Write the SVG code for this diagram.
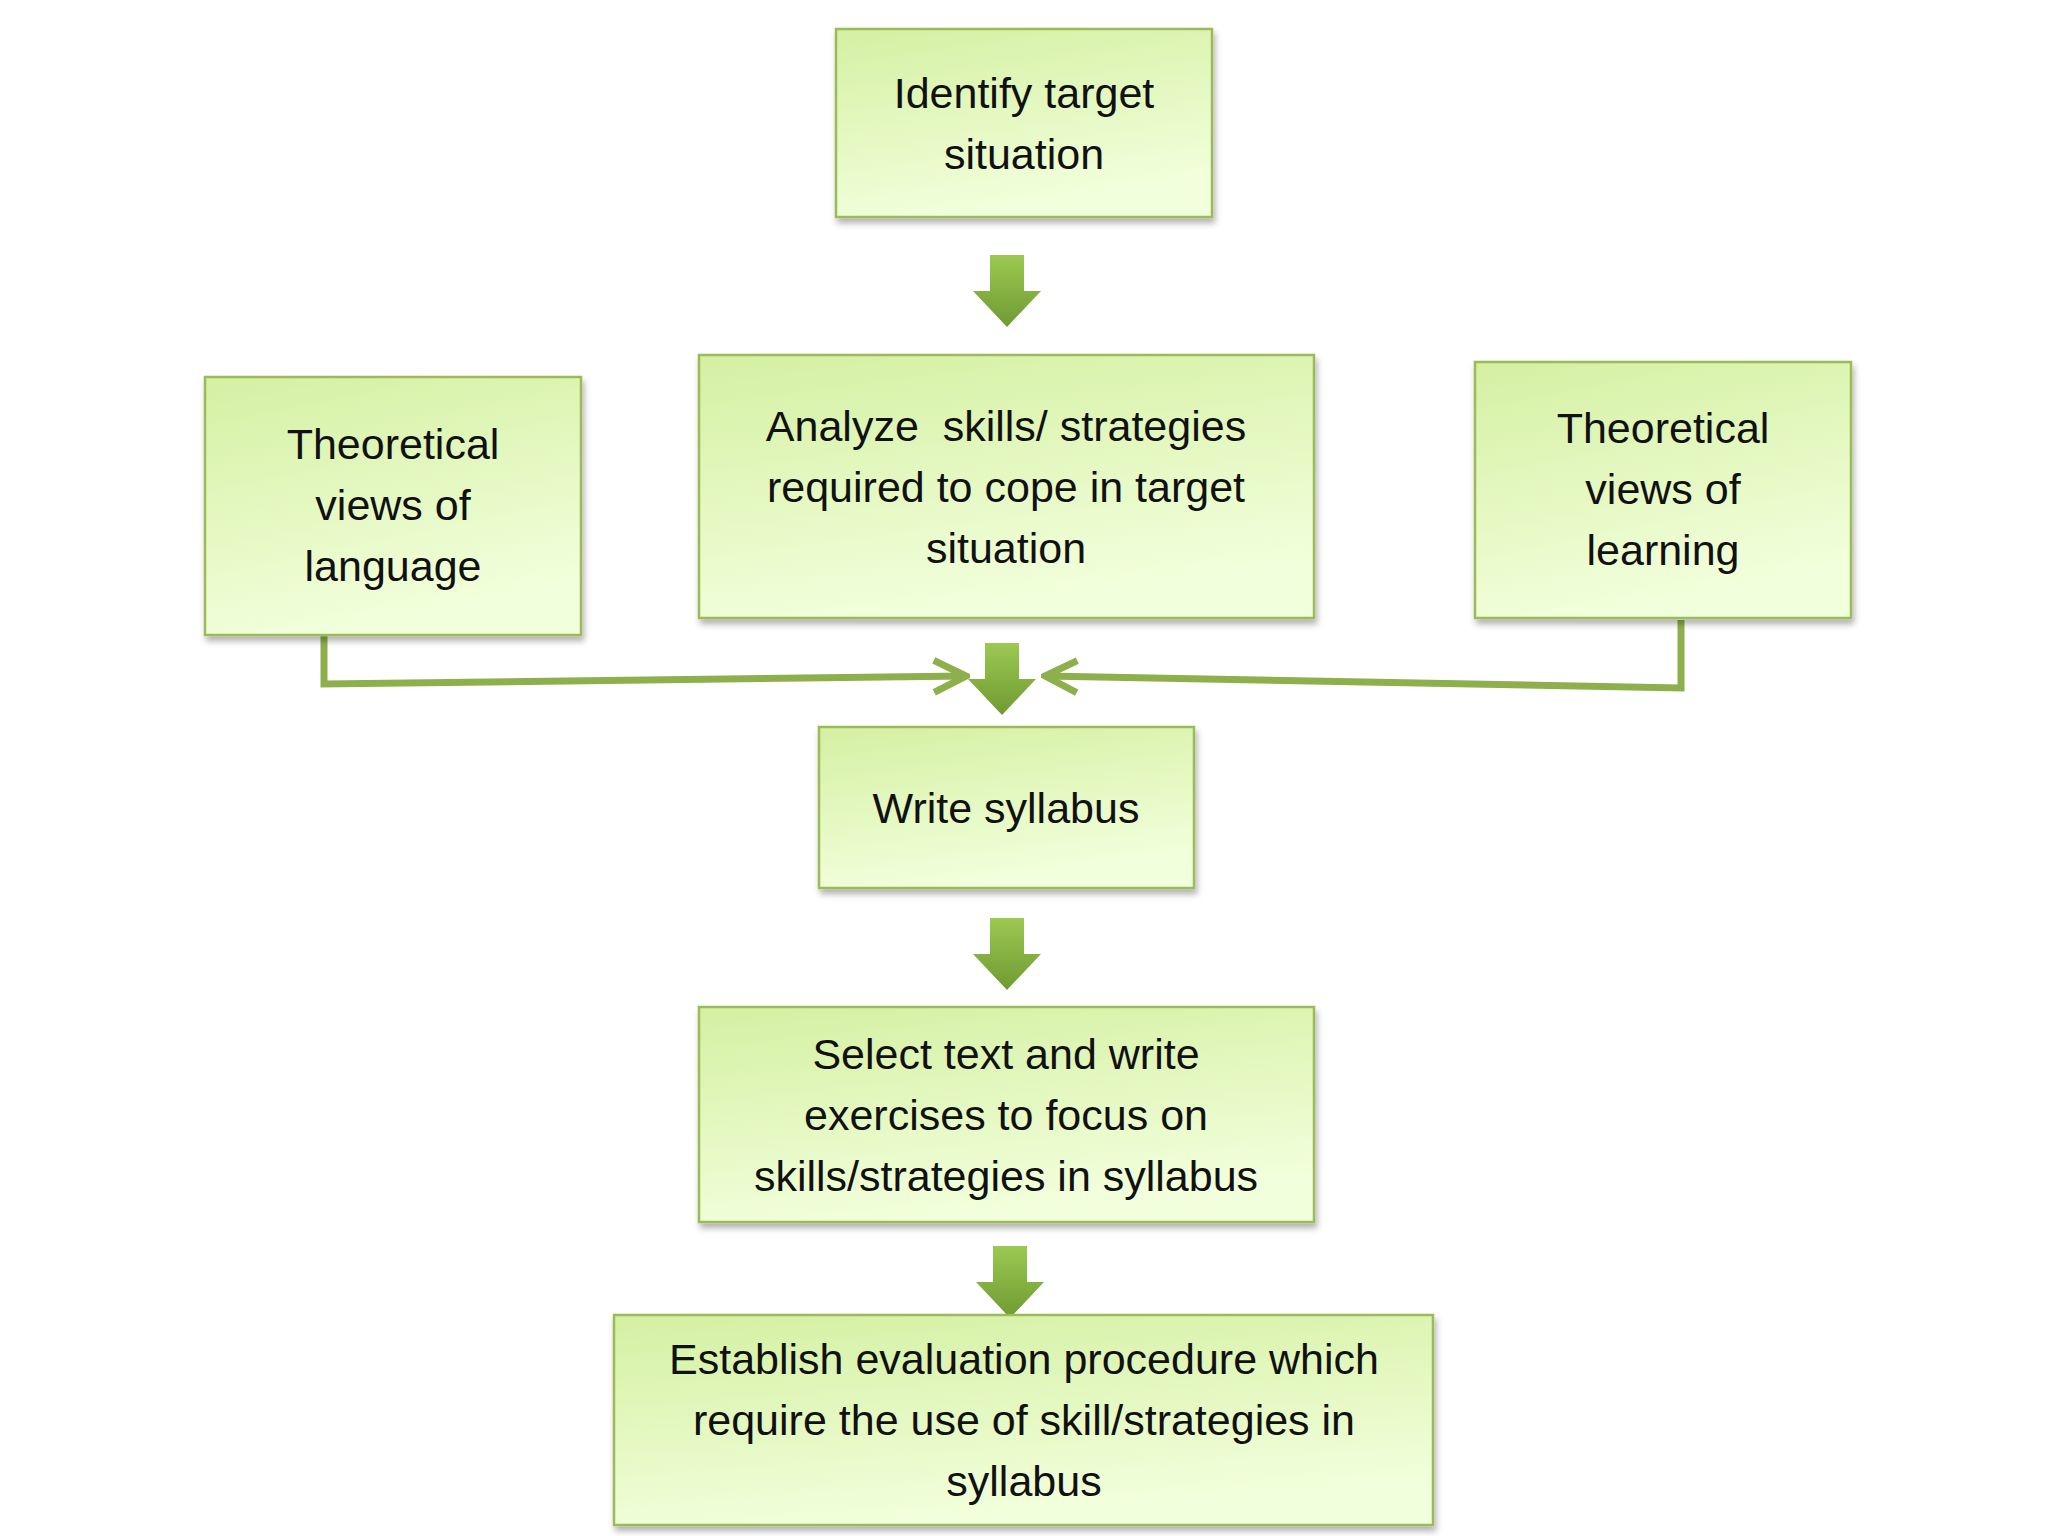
<svg xmlns="http://www.w3.org/2000/svg" width="2048" height="1536" viewBox="0 0 2048 1536">
<defs>
<linearGradient id="g" x1="0" y1="0" x2="0.3" y2="1"><stop offset="0" stop-color="#d4f0a2"/><stop offset="1" stop-color="#f2ffdc"/></linearGradient>
<linearGradient id="a" x1="0" y1="0" x2="0" y2="1"><stop offset="0" stop-color="#9cc952"/><stop offset="1" stop-color="#6f9a32"/></linearGradient>
<filter id="s" x="-5%" y="-5%" width="115%" height="120%"><feDropShadow dx="2" dy="5" stdDeviation="3" flood-color="#000" flood-opacity="0.3"/></filter>
<marker id="m" viewBox="0 0 40 40" refX="36" refY="20" markerWidth="40" markerHeight="40" markerUnits="userSpaceOnUse" orient="auto"><path d="M4,4 L36,20 L4,36" fill="none" stroke="#8db04c" stroke-width="7"/></marker>
<path id="ba" d="M-17,0 H17 V36 H34 L0,72 L-34,36 H-17 Z"/>
</defs>
<style>
.n rect{fill:url(#g);stroke:#9bbb59;stroke-width:2.5;filter:url(#s)}
.n text{font-family:"Liberation Sans",Arial,sans-serif;font-size:43px;fill:#111;text-anchor:middle;white-space:pre}
.c path{fill:none;stroke:#8db04c;stroke-width:7}
.b use{fill:url(#a)}
</style>
<rect width="2048" height="1536" fill="#fff"/>
<g class="c">
<path d="M324,636 V684 L966,676" marker-end="url(#m)"/>
<path d="M1681,620 V688 L1045,676" marker-end="url(#m)"/>
</g>
<g class="b">
<use href="#ba" x="1007" y="255"/>
<use href="#ba" x="1002" y="643"/>
<use href="#ba" x="1007" y="918"/>
<use href="#ba" x="1010" y="1246"/>
</g>
<g id="n1" class="n"><rect x="836" y="29" width="376" height="188"/><text x="1024" y="108">Identify target</text><text x="1024" y="169">situation</text></g>
<g id="n2" class="n"><rect x="699" y="355" width="615" height="263"/><text x="1006" y="441">Analyze  skills/ strategies</text><text x="1006" y="502">required to cope in target</text><text x="1006" y="563">situation</text></g>
<g id="n3" class="n"><rect x="205" y="377" width="376" height="258"/><text x="393" y="459">Theoretical</text><text x="393" y="520">views of</text><text x="393" y="581">language</text></g>
<g id="n4" class="n"><rect x="1475" y="362" width="376" height="256"/><text x="1663" y="443">Theoretical</text><text x="1663" y="504">views of</text><text x="1663" y="565">learning</text></g>
<g id="n5" class="n"><rect x="819" y="727" width="375" height="161"/><text x="1006" y="823">Write syllabus</text></g>
<g id="n6" class="n"><rect x="699" y="1007" width="615" height="215"/><text x="1006" y="1069">Select text and write</text><text x="1006" y="1130">exercises to focus on</text><text x="1006" y="1191">skills/strategies in syllabus</text></g>
<g id="n7" class="n"><rect x="614" y="1315" width="819" height="210"/><text x="1024" y="1374">Establish evaluation procedure which</text><text x="1024" y="1435">require the use of skill/strategies in</text><text x="1024" y="1496">syllabus</text></g>
</svg>
